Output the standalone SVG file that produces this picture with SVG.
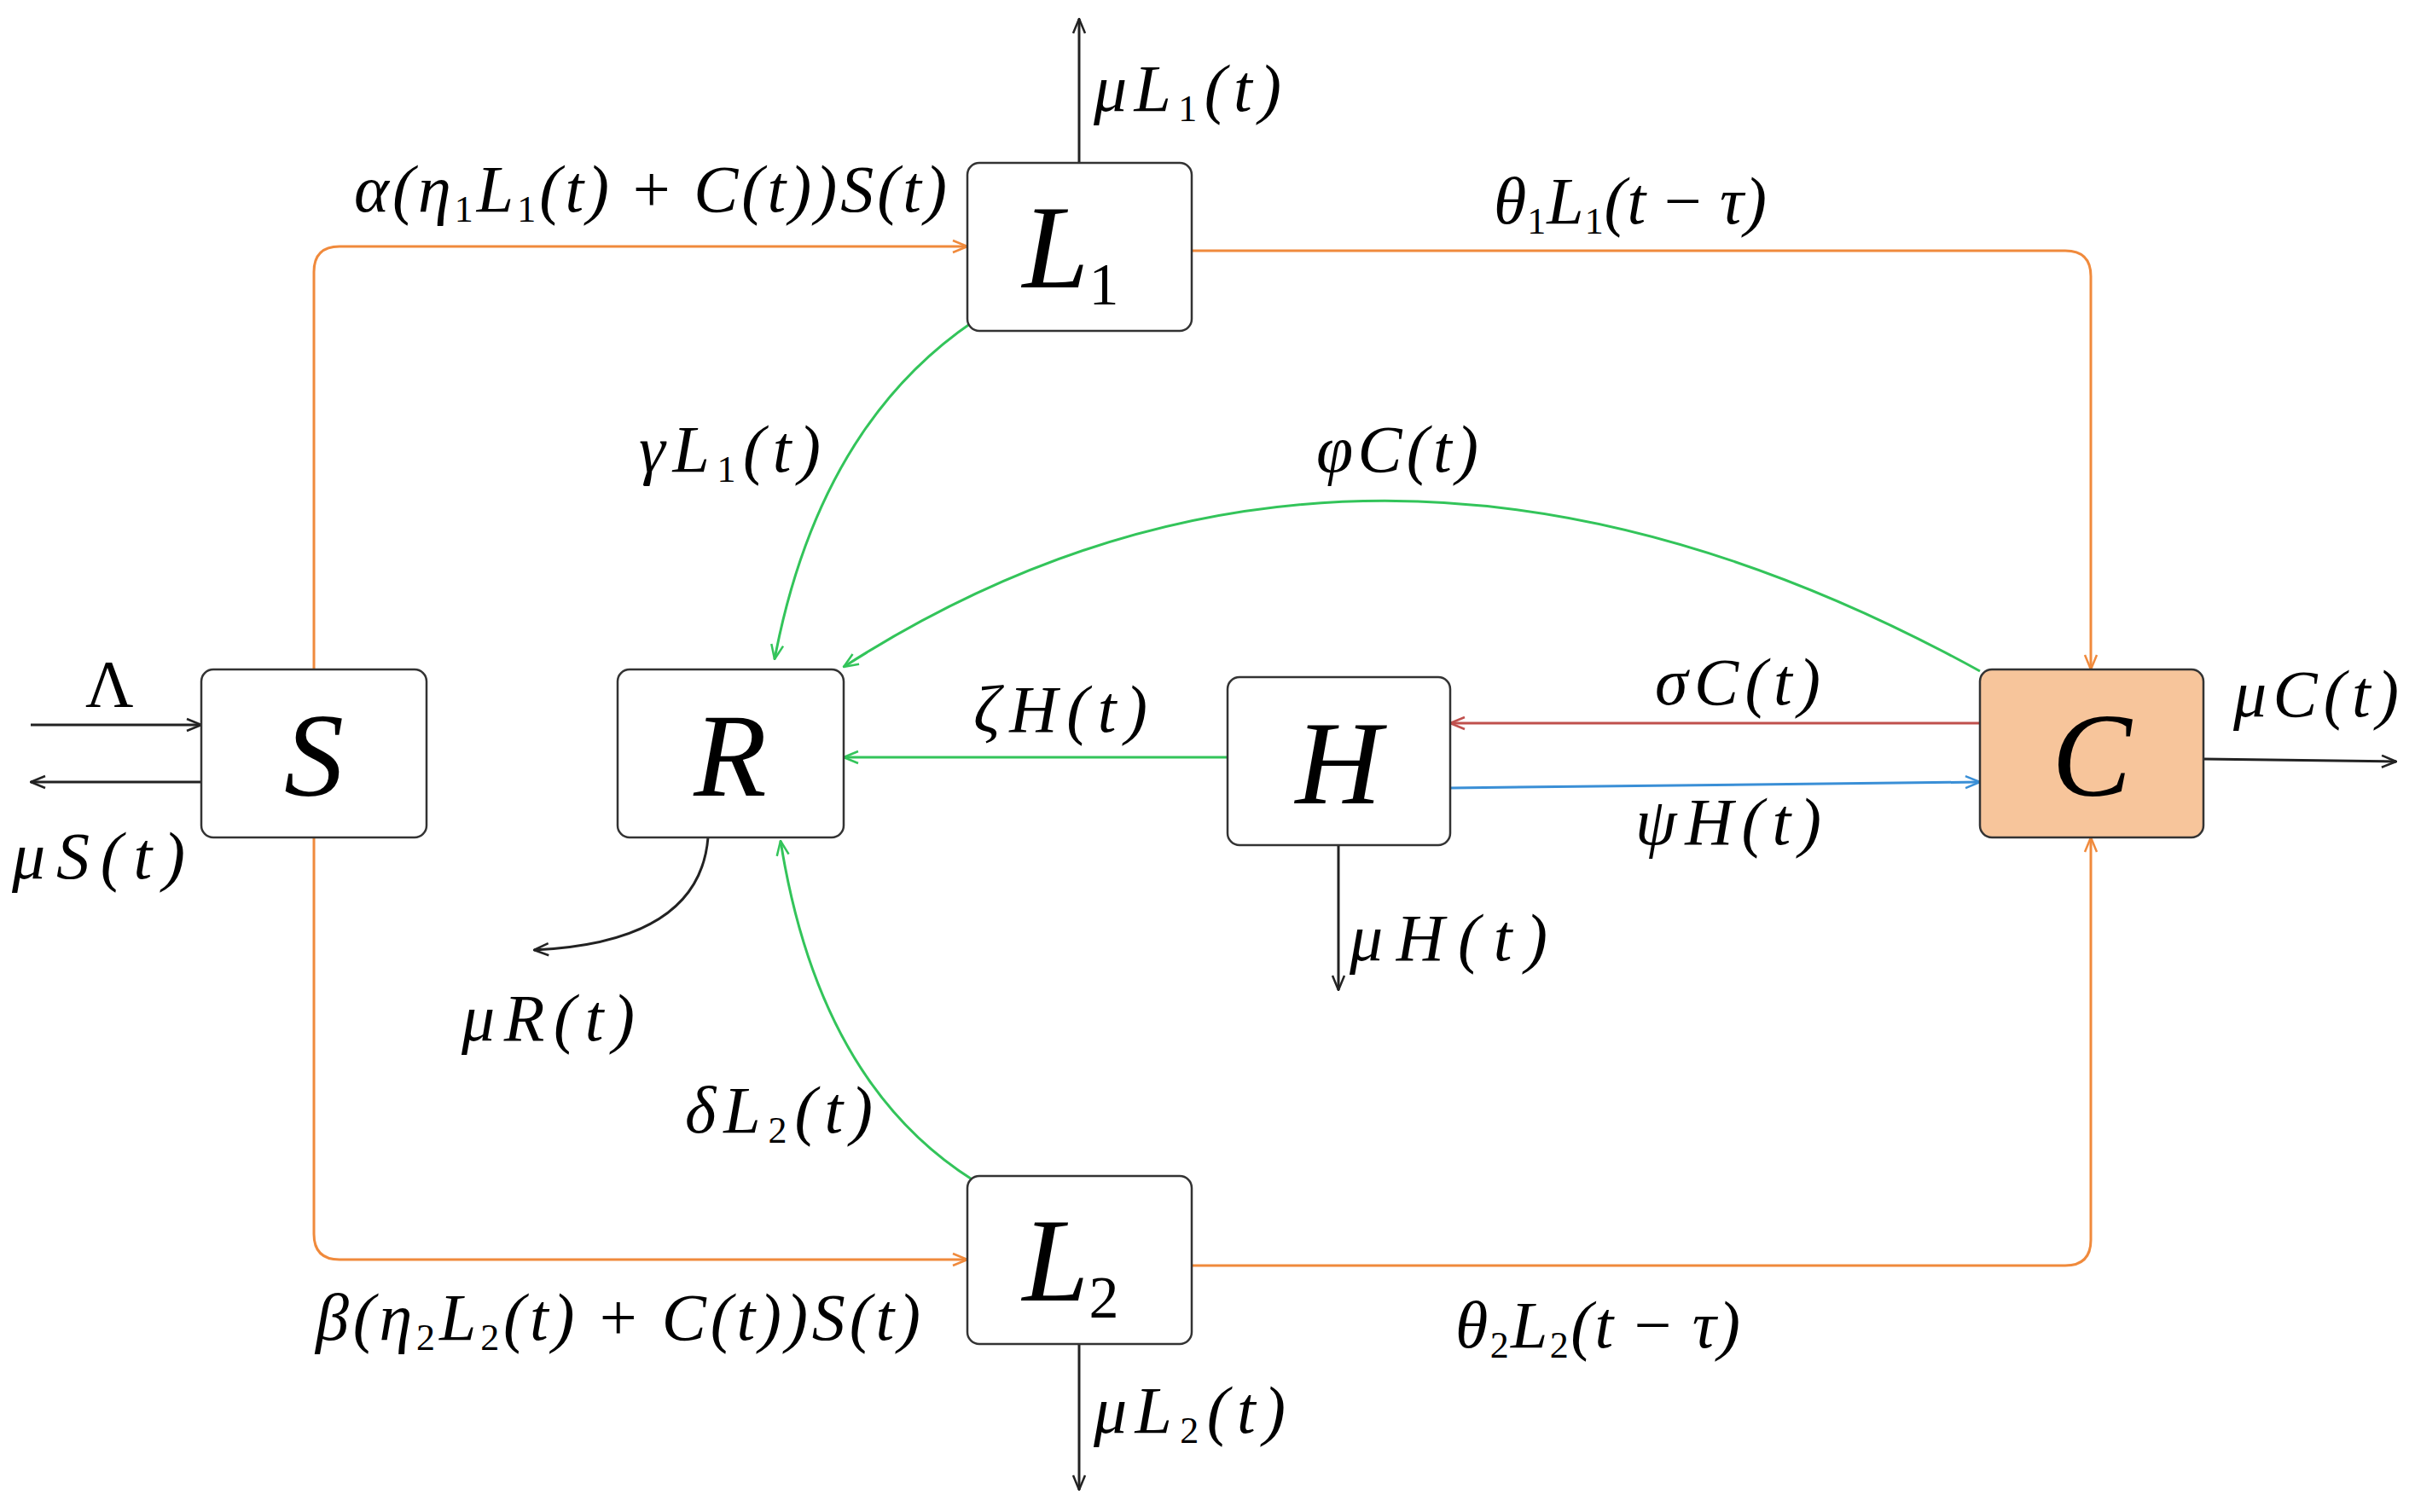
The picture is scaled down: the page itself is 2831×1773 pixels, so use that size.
<svg xmlns="http://www.w3.org/2000/svg" width="2831" height="1773" viewBox="0 0 2831 1773">
<style>
.box{fill:#fff;stroke:#333;stroke-width:2.5}
.big{font-family:"Liberation Serif",serif;font-style:italic;font-size:140px;text-anchor:middle}
.lbl{font-family:"Liberation Serif",serif;font-style:italic;font-size:78px}
.up{font-style:normal}
.sub{font-size:44px}
.o{stroke:#f08a3c;stroke-width:3;fill:none}
.g{stroke:#33c45a;stroke-width:3;fill:none}
.k{stroke:#222;stroke-width:3;fill:none}
</style>
<defs>
<marker id="ak" viewBox="0 0 20 20" refX="19" refY="10" markerWidth="20" markerHeight="20" markerUnits="userSpaceOnUse" orient="auto"><path d="M2,3 L19,10 L2,17" fill="none" stroke="#222" stroke-width="2.5"/></marker>
<marker id="ao" viewBox="0 0 20 20" refX="19" refY="10" markerWidth="20" markerHeight="20" markerUnits="userSpaceOnUse" orient="auto"><path d="M2,3 L19,10 L2,17" fill="none" stroke="#f08a3c" stroke-width="2.5"/></marker>
<marker id="ag" viewBox="0 0 20 20" refX="19" refY="10" markerWidth="20" markerHeight="20" markerUnits="userSpaceOnUse" orient="auto"><path d="M2,3 L19,10 L2,17" fill="none" stroke="#33c45a" stroke-width="2.5"/></marker>
<marker id="ar" viewBox="0 0 20 20" refX="19" refY="10" markerWidth="20" markerHeight="20" markerUnits="userSpaceOnUse" orient="auto"><path d="M2,3 L19,10 L2,17" fill="none" stroke="#c0504d" stroke-width="2.5"/></marker>
<marker id="ab" viewBox="0 0 20 20" refX="19" refY="10" markerWidth="20" markerHeight="20" markerUnits="userSpaceOnUse" orient="auto"><path d="M2,3 L19,10 L2,17" fill="none" stroke="#3a8fd6" stroke-width="2.5"/></marker>
</defs>
<rect width="2831" height="1773" fill="#fff"/>
<g id="connectors">
<path class="o" d="M368,785 V319 Q368,289 398,289 H1134" marker-end="url(#ao)"/>
<path class="o" d="M1397,294 H2421 Q2451,294 2451,324 V785" marker-end="url(#ao)"/>
<path class="o" d="M368,982 V1447 Q368,1477 398,1477 H1134" marker-end="url(#ao)"/>
<path class="o" d="M1397,1484 H2421 Q2451,1484 2451,1454 V982" marker-end="url(#ao)"/>
<path class="k" d="M1265,191 V22" marker-end="url(#ak)"/>
<path class="k" d="M1265,1576 V1747" marker-end="url(#ak)"/>
<path class="k" d="M36,850 H236" marker-end="url(#ak)"/>
<path class="k" d="M236,917 H36" marker-end="url(#ak)"/>
<path class="k" d="M1569,991 V1161" marker-end="url(#ak)"/>
<path class="k" d="M2583,890 L2809,893" marker-end="url(#ak)"/>
<path class="k" d="M830,982 Q820,1105 626,1114" marker-end="url(#ak)"/>
<path class="g" d="M1141,377 Q960,500 908,773" marker-end="url(#ag)"/>
<path class="g" d="M2321,787 Q1600,390 989,782" marker-end="url(#ag)"/>
<path class="g" d="M1439,888 H989" marker-end="url(#ag)"/>
<path class="g" d="M1141,1384 Q960,1270 915,986" marker-end="url(#ag)"/>
<path d="M2321,848 H1700" stroke="#c0504d" stroke-width="3" fill="none" marker-end="url(#ar)"/>
<path d="M1700,924 L2321,917" stroke="#3a8fd6" stroke-width="3" fill="none" marker-end="url(#ab)"/>
</g>
<g id="S"><rect class="box" x="236" y="785" width="264" height="197" rx="14"/><text class="big" x="368" y="933">S</text></g>
<g id="R"><rect class="box" x="724" y="785" width="265" height="197" rx="14"/><text class="big" x="856" y="933">R</text></g>
<g id="H"><rect class="box" x="1439" y="794" width="261" height="197" rx="14"/><text class="big" x="1569" y="942">H</text></g>
<g id="C"><rect class="box" x="2321" y="785" width="262" height="197" rx="14" style="fill:#f7c59b"/><text class="big" x="2452" y="933">C</text></g>
<g id="L1"><rect class="box" x="1134" y="191" width="263" height="197" rx="14"/><text class="big" x="1255" y="337">L<tspan style="font-style:normal;font-size:70px" dy="20">1</tspan></text></g>
<g id="L2"><rect class="box" x="1134" y="1379" width="263" height="197" rx="14"/><text class="big" x="1255" y="1525">L<tspan style="font-style:normal;font-size:70px" dy="20">2</tspan></text></g>
<g id="labels">
<text class="lbl" x="415" y="248" textLength="695">α(η<tspan class="sub up" dy="12">1</tspan><tspan dy="-12">L</tspan><tspan class="sub up" dy="12">1</tspan><tspan dy="-12">(t) </tspan><tspan class="up">+</tspan> C(t))S(t)</text>
<text class="lbl" x="1282" y="130" textLength="220">μL<tspan class="sub up" dy="12">1</tspan><tspan dy="-12">(t)</tspan></text>
<text class="lbl" x="1751" y="262" textLength="320">θ<tspan class="sub up" dy="12">1</tspan><tspan dy="-12">L</tspan><tspan class="sub up" dy="12">1</tspan><tspan dy="-12">(t </tspan><tspan class="up">−</tspan> τ)</text>
<text class="lbl" x="749" y="553" textLength="213">γL<tspan class="sub up" dy="12">1</tspan><tspan dy="-12">(t)</tspan></text>
<text class="lbl" x="1543" y="553" textLength="190">φC(t)</text>
<text class="lbl" x="1141" y="858" textLength="204">ζH(t)</text>
<text class="lbl" x="1940" y="826" textLength="194">σC(t)</text>
<text class="lbl" x="1917" y="990" textLength="218">ψH(t)</text>
<text class="lbl" x="2618" y="840" textLength="194">μC(t)</text>
<text class="lbl up" x="100" y="828">Λ</text>
<text class="lbl" x="14" y="1030" textLength="203">μS(t)</text>
<text class="lbl" x="541" y="1220" textLength="203">μR(t)</text>
<text class="lbl" x="1582" y="1126" textLength="232">μH(t)</text>
<text class="lbl" x="803" y="1328" textLength="220">δL<tspan class="sub up" dy="12">2</tspan><tspan dy="-12">(t)</tspan></text>
<text class="lbl" x="370" y="1571" textLength="709">β(η<tspan class="sub up" dy="12">2</tspan><tspan dy="-12">L</tspan><tspan class="sub up" dy="12">2</tspan><tspan dy="-12">(t) </tspan><tspan class="up">+</tspan> C(t))S(t)</text>
<text class="lbl" x="1706" y="1580" textLength="334">θ<tspan class="sub up" dy="12">2</tspan><tspan dy="-12">L</tspan><tspan class="sub up" dy="12">2</tspan><tspan dy="-12">(t </tspan><tspan class="up">−</tspan> τ)</text>
<text class="lbl" x="1282" y="1680" textLength="225">μL<tspan class="sub up" dy="12">2</tspan><tspan dy="-12">(t)</tspan></text>
</g>
</svg>
